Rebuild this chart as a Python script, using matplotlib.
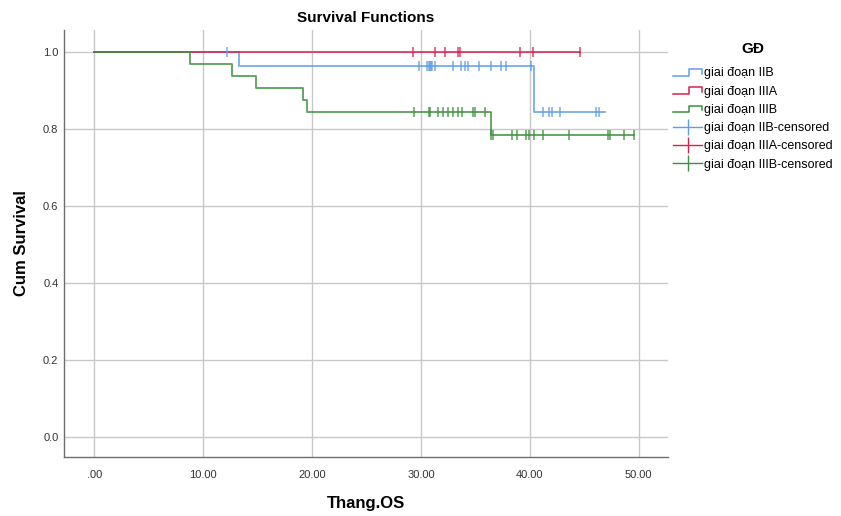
import matplotlib
matplotlib.use("Agg")
import matplotlib.pyplot as plt
import numpy as np
from matplotlib.legend_handler import HandlerBase
from matplotlib.lines import Line2D

plt.rcParams['font.family'] = ['Liberation Sans', 'DejaVu Sans']

# Kaplan-Meier estimates per stage (GĐ)
groups = ["giai đoạn IIB", "giai đoạn IIIA", "giai đoạn IIIB"]
colors = ["#5E9EE6", "#D92050", "#3C8F3C"]

iib_event_times = [13.3, 40.35]
iib_surv = [0.963, 0.843]
iib_end = 46.9
iib_censored = [12.2, 29.8, 30.6, 30.7, 30.8, 30.9, 31.0, 31.3, 32.9, 33.7,
                34.05, 34.3, 35.3, 36.45, 37.4, 37.8, 40.1, 41.2, 41.8,
                42.05, 42.8, 46.05, 46.4]

iiia_event_times = []
iiia_surv = []
iiia_end = 44.6
iiia_censored = [29.3, 31.25, 32.2, 33.4, 33.6, 39.1, 40.3, 44.6]

iiib_event_times = [8.75, 12.6, 14.8, 19.15, 19.5, 36.4]
iiib_surv = [0.969, 0.938, 0.906, 0.875, 0.844, 0.783]
iiib_end = 49.55
iiib_censored = [29.4, 30.7, 30.85, 31.55, 32.0, 32.5, 32.9, 33.4, 33.8, 34.8,
                 35.0, 35.9, 36.45, 36.6, 38.35, 38.85, 39.67, 39.9, 40.35,
                 41.2, 43.6, 47.2, 47.4, 48.65, 49.55]

x_ticks = [0, 10, 20, 30, 40, 50]
x_tick_labels = [".00", "10.00", "20.00", "30.00", "40.00", "50.00"]
y_ticks = [0.0, 0.2, 0.4, 0.6, 0.8, 1.0]
y_tick_labels = ["0.0", "0.2", "0.4", "0.6", "0.8", "1.0"]

series = [
    (iib_event_times, iib_surv, iib_end, iib_censored),
    (iiia_event_times, iiia_surv, iiia_end, iiia_censored),
    (iiib_event_times, iiib_surv, iiib_end, iiib_censored),
]


def step_curve(times, surv, end):
    xs = [0.0] + list(times) + [end]
    ys = [1.0] + list(surv) + [surv[-1] if surv else 1.0]
    return np.array(xs), np.array(ys)


def level_at(t, times, surv):
    s = 1.0
    for et, sv in zip(times, surv):
        if t >= et:
            s = sv
    return s


class StepHandler(HandlerBase):
    def create_artists(self, legend, orig_handle, xdescent, ydescent,
                       width, height, fontsize, trans):
        x0 = -xdescent
        y0 = -ydescent
        xs = [x0, x0 + width * 0.55, x0 + width * 0.55, x0 + width, x0 + width]
        ys = [y0 + height * 0.1, y0 + height * 0.1, y0 + height * 0.85,
              y0 + height * 0.85, y0 + height * 0.3]
        ln = Line2D(xs, ys, color=orig_handle.get_color(), lw=1.1,
                    transform=trans)
        return [ln]


fig = plt.figure(figsize=(8.41, 5.16), dpi=100)
ax = fig.add_axes([0.0761, 0.1143, 0.7182, 0.8276])

step_handles = []
cens_handles = []
for (times, surv, end, cens), col, name in zip(series, colors, groups):
    xs, ys = step_curve(times, surv, end)
    ln, = ax.step(xs, ys, where='post', color=col, lw=1.3, alpha=0.85,
                  zorder=3)
    step_handles.append(ln)
for (times, surv, end, cens), col, name in zip(series, colors, groups):
    cy = [level_at(t, times, surv) for t in cens]
    ax.plot(cens, cy, ls='none', marker='|', ms=7, mew=1.1, color=col,
            alpha=0.85, zorder=4)
    cens_handles.append(Line2D([], [], color=col, lw=1.0, marker='|',
                               ms=11, mew=1.0))

ax.set_xlim(-2.8, 52.7)
ax.set_ylim(-0.052, 1.057)
ax.set_xticks(x_ticks)
ax.set_xticklabels(x_tick_labels)
ax.set_yticks(y_ticks)
ax.set_yticklabels(y_tick_labels)
ax.grid(True, color='#c8c8c8', lw=1.0)
ax.set_axisbelow(True)
for s in ['top', 'right']:
    ax.spines[s].set_visible(False)
for s in ['left', 'bottom']:
    ax.spines[s].set_color('#6e6e6e')
    ax.spines[s].set_linewidth(1.0)
ax.tick_params(length=0, labelsize=8, colors='#333333')
ax.tick_params(axis='x', pad=9)
ax.tick_params(axis='y', pad=4)

ax.set_xlabel("Thang.OS", fontsize=12, fontweight='bold', labelpad=12)
ax.set_ylabel("Cum Survival", fontsize=12, fontweight='bold', labelpad=10)
ax.set_title("Survival Functions", fontsize=11, fontweight='bold', pad=6)

labels = groups + [g + "-censored" for g in groups]
handles = step_handles + cens_handles
hmap = {h: StepHandler() for h in step_handles}
leg = fig.legend(handles, labels, handler_map=hmap, loc='upper left',
                 bbox_to_anchor=(0.793, 0.93), frameon=False,
                 fontsize=9, title="GĐ", handlelength=2.3,
                 handletextpad=0.15, labelspacing=0.5, borderpad=0,
                 title_fontproperties={'weight': 'bold', 'size': 11})
leg._legend_box.align = "center"
leg._legend_box.sep = 8

fig.savefig("out.png", dpi=100)
